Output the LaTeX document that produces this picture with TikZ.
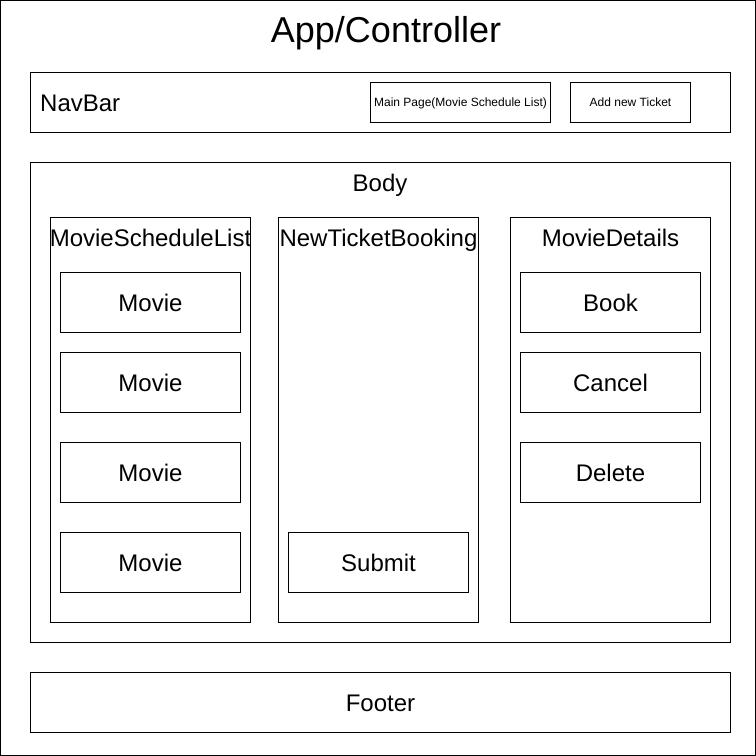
\documentclass[tikz,border=0pt]{standalone}
\usepackage{fontspec}
\setmainfont{Liberation Sans}
\begin{document}
\begin{tikzpicture}[x=1pt,y=-1pt,
  box/.style={draw=black,line width=1pt,rectangle,inner sep=0pt,outer sep=0pt,text depth=0pt},
  big/.style={font=\fontsize{24}{28}\selectfont,text height=17.2pt,text depth=0pt},
  small/.style={font=\fontsize{12}{14}\selectfont,text height=8.6pt,text depth=0pt},
  huge/.style={font=\fontsize{36}{40}\selectfont,text height=25.8pt,text depth=0pt},
  lbl/.style={inner sep=0pt,anchor=center}]
\useasboundingbox (0,0) rectangle (756,756);
\node[box,minimum width=755pt,minimum height=755pt] (outer) at (378,378) {};
\node[lbl,huge] (title) at (386,30) {App/Controller};
% NavBar
\node[box,minimum width=700pt,minimum height=60pt] (navbar) at (380.5,102.5) {};
\node[lbl,big,anchor=west] (navlabel) at (40,102.5) {NavBar};
\node[box,small,minimum width=180pt,minimum height=40pt] (mainpage) at (460.5,102.5) {Main Page(Movie Schedule List)};
\node[box,small,minimum width=120pt,minimum height=40pt] (addticket) at (630.5,102.5) {Add new Ticket};
% Body
\node[box,minimum width=700pt,minimum height=480pt] (body) at (380.5,402.5) {};
\node[lbl,big] (bodylabel) at (380,183) {Body};
% Panels
\node[box,minimum width=200pt,minimum height=405pt] (msl) at (150.5,420) {};
\node[lbl,big] (msllabel) at (150.5,238) {MovieScheduleList};
\node[box,minimum width=200pt,minimum height=405pt] (ntb) at (378.5,420) {};
\node[lbl,big] (ntblabel) at (378.5,238) {NewTicketBooking};
\node[box,minimum width=200pt,minimum height=405pt] (md) at (610.5,420) {};
\node[lbl,big] (mdlabel) at (610.5,238) {MovieDetails};
% Movies
\node[box,big,minimum width=180pt,minimum height=60pt] (m1) at (150.5,302.5) {Movie};
\node[box,big,minimum width=180pt,minimum height=60pt] (m2) at (150.5,382.5) {Movie};
\node[box,big,minimum width=180pt,minimum height=60pt] (m3) at (150.5,472.5) {Movie};
\node[box,big,minimum width=180pt,minimum height=60pt] (m4) at (150.5,562.5) {Movie};
% Submit
\node[box,big,minimum width=180pt,minimum height=60pt] (submit) at (378.5,562.5) {Submit};
% Details buttons
\node[box,big,minimum width=180pt,minimum height=60pt] (book) at (610.5,302.5) {Book};
\node[box,big,minimum width=180pt,minimum height=60pt] (cancel) at (610.5,382.5) {Cancel};
\node[box,big,minimum width=180pt,minimum height=60pt] (delete) at (610.5,472.5) {Delete};
% Footer
\node[box,big,minimum width=700pt,minimum height=60pt] (footer) at (380.5,702.5) {Footer};
\end{tikzpicture}
\end{document}
